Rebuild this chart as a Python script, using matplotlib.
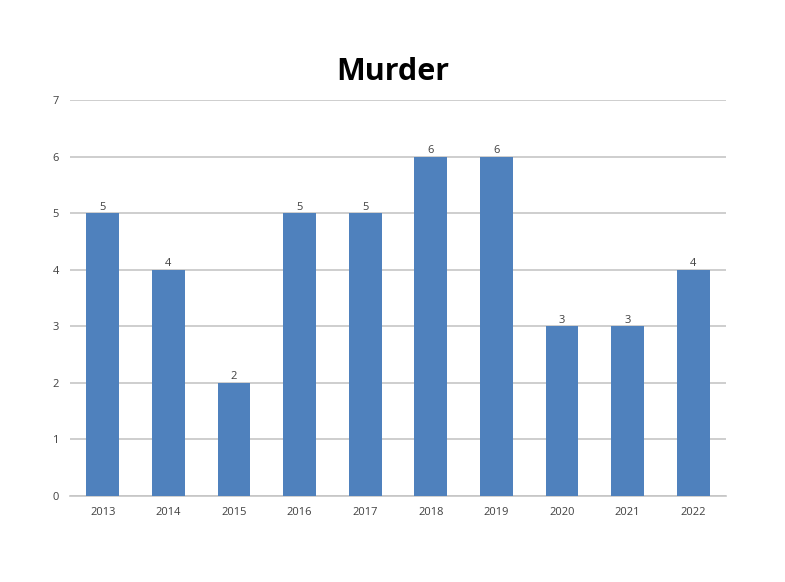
import matplotlib
matplotlib.use("Agg")
import matplotlib.pyplot as plt

YEARS = ["2013", "2014", "2015", "2016", "2017", "2018", "2019", "2020", "2021", "2022"]
MURDERS = [5, 4, 2, 5, 5, 6, 6, 3, 3, 4]

BAR_C = "#4f81bd"
GRID_C = "#c6c6c6"
TXT_C = "#404040"

plt.rcParams["font.family"] = ["Open Sans", "DejaVu Sans"]

fig = plt.figure(figsize=(7.85, 5.82), dpi=100)
ax = fig.add_axes([70 / 785, 1 - 496 / 582, 656 / 785, 396 / 582])

x = range(len(YEARS))
ax.bar(x, MURDERS, width=0.5, color=BAR_C, zorder=3)
for xi, v in zip(x, MURDERS):
    ax.text(xi, v + 0.01, str(v), ha="center", va="bottom", fontsize=8, color=TXT_C)

ax.set_xlim(-0.5, len(YEARS) - 0.5)
ax.set_ylim(0, 7)
ax.set_yticks(range(8))
ax.set_xticks(list(x))
ax.set_xticklabels(YEARS)
ax.tick_params(length=0, labelsize=8, labelcolor=TXT_C, pad=8)
ax.yaxis.grid(True, color=GRID_C, lw=1.2, zorder=0)
for s in ("top", "right", "left"):
    ax.spines[s].set_visible(False)
ax.spines["bottom"].set_color(GRID_C)
ax.spines["bottom"].set_linewidth(1.2)

fig.text(0.5, 1 - 72 / 582, "Murder", ha="center", va="center",
         fontsize=22, fontweight="bold", color="black")

fig.savefig("out.png", dpi=100)
